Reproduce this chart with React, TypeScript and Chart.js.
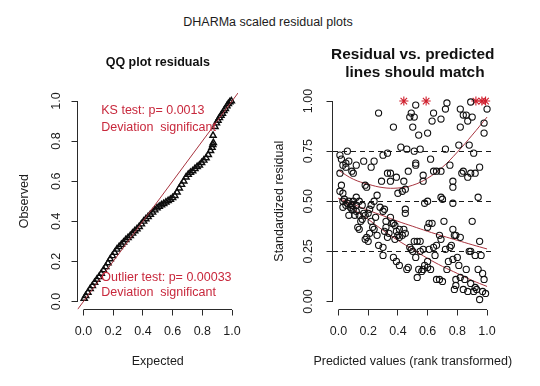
import React, { useEffect, useRef } from 'react';
import { Chart, registerables } from 'chart.js';

Chart.register(...registerables);

// ---------------- data ----------------
const mainTitle = 'DHARMa scaled residual plots';
const qqTitle = ['QQ plot residuals'];
const resTitle = ['Residual vs. predicted', ' lines should match'];

const qqTickValues = [0, 0.2, 0.4, 0.6, 0.8, 1.0];
const qqTickLabels = ['0.0', '0.2', '0.4', '0.6', '0.8', '1.0'];
const resXTickValues = [0, 0.2, 0.4, 0.6, 0.8, 1.0];
const resXTickLabels = ['0.0', '0.2', '0.4', '0.6', '0.8', '1.0'];
const resYTickValues = [0, 0.25, 0.5, 0.75, 1.0];
const resYTickLabels = ['0.00', '0.25', '0.50', '0.75', '1.00'];
const dashLevels = [0.25, 0.5, 0.75];

// QQ plot: expected vs observed
const qqExpected = [
  0.005, 0.015, 0.03, 0.045, 0.06, 0.075, 0.09, 0.105, 0.12, 0.135, 0.15, 0.165, 0.18, 0.195,
  0.21, 0.225, 0.24, 0.255, 0.27, 0.285, 0.3, 0.315, 0.33, 0.345, 0.36, 0.375, 0.39, 0.405,
  0.42, 0.435, 0.45, 0.465, 0.48, 0.495, 0.51, 0.525, 0.54, 0.555, 0.57, 0.585, 0.6, 0.615,
  0.63, 0.645, 0.66, 0.675, 0.69, 0.705, 0.72, 0.735, 0.75, 0.765, 0.78, 0.795, 0.81, 0.825,
  0.84, 0.855, 0.865, 0.87, 0.874, 0.872, 0.885, 0.895, 0.905, 0.915, 0.925, 0.935, 0.945,
  0.955, 0.965, 0.975, 0.985, 0.995,
];
const qqObserved = [
  0.015, 0.028, 0.045, 0.064, 0.078, 0.095, 0.11, 0.123, 0.14, 0.157, 0.173, 0.192, 0.212, 0.228,
  0.244, 0.26, 0.273, 0.284, 0.295, 0.308, 0.318, 0.328, 0.34, 0.352, 0.362, 0.373, 0.386, 0.4,
  0.412, 0.423, 0.434, 0.445, 0.456, 0.466, 0.474, 0.481, 0.488, 0.495, 0.502, 0.509, 0.517, 0.528,
  0.545, 0.565, 0.583, 0.6, 0.62, 0.634, 0.643, 0.651, 0.662, 0.672, 0.68, 0.692, 0.704, 0.716,
  0.732, 0.752, 0.768, 0.782, 0.792, 0.828, 0.872, 0.89, 0.903, 0.916, 0.928, 0.938, 0.952,
  0.962, 0.975, 0.986, 0.995, 1.0,
];
const identityEnds = [-0.04, 1.04];

// Residual vs predicted (rank transformed)
const predicted = [
  0.27, 0.37, 0.48, 0.49, 0.51, 0.52, 0.50, 0.54, 0.60, 0.63, 0.64, 0.69, 0.72, 0.73, 0.82, 0.82,
  0.84, 0.86, 0.87, 0.90, 0.89, 1.0, 0.98, 0.98, 0.81, 0.88, 0.91, 0.42, 0.46, 0.51, 0.55, 0.72,
  0.75, 0.95, 0.92, 0.83, 0.84, 0.87, 0.89, 0.77, 0.77, 0.94, 0.66, 0.64, 0.69, 0.62, 0.57, 0.57,
  0.52, 0.52, 0.47, 0.44, 0.45, 0.43, 0.40, 0.39, 0.35, 0.35, 0.33, 0.30, 0.33, 0.24, 0.22, 0.29,
  0.18, 0.19, 0.17, 0.12, 0.10, 0.09, 0.06, 0.01, 0.02, 0.03, 0.05, 0.07, 0.01, 0.05, 0.02, 0.01,
  0.03, 0.70, 0.69, 0.77, 0.58, 0.60, 0.45, 0.45, 0.26, 0.24, 0.22, 0.21, 0.03, 0.03, 0.06, 0.07,
  0.09, 0.09, 0.07, 0.12, 0.12, 0.14, 0.13, 0.14, 0.16, 0.16, 0.18, 0.19, 0.21, 0.25, 0.24, 0.26,
  0.27, 0.30, 0.30, 0.28, 0.30, 0.31, 0.32, 0.31, 0.32, 0.35, 0.37, 0.38, 0.39, 0.40, 0.41, 0.43,
  0.44, 0.45, 0.37, 0.39, 0.41, 0.04, 0.05, 0.10, 0.11, 0.14, 0.17, 0.20, 0.22, 0.23, 0.33, 0.34,
  0.36, 0.38, 0.41, 0.08, 0.10, 0.12, 0.15, 0.18, 0.20, 0.46, 0.47, 0.48, 0.49, 0.51, 0.53, 0.55,
  0.53, 0.54, 0.55, 0.57, 0.56, 0.57, 0.58, 0.61, 0.63, 0.60, 0.61, 0.64, 0.62, 0.60, 0.66, 0.69,
  0.68, 0.66, 0.68, 0.70, 0.71, 0.72, 0.73, 0.74, 0.75, 0.76, 0.77, 0.78, 0.79, 0.77, 0.78, 0.79,
  0.79, 0.80, 0.82, 0.82, 0.81, 0.84, 0.85, 0.86, 0.87, 0.89, 0.89, 0.90, 0.91, 0.92, 0.92, 0.93,
  0.94, 0.95, 0.95, 0.96, 0.97, 0.97, 0.98, 0.99, 0.88, 0.50, 0.52, 0.60, 0.65,
];
const residual = [
  0.94, 0.87, 0.92, 0.94, 0.92, 0.98, 0.87, 0.83, 0.84, 0.90, 0.94, 0.91, 0.96, 0.99, 0.96, 0.87,
  0.93, 0.93, 0.90, 0.92, 0.995, 0.96, 0.89, 0.84, 0.78, 0.78, 0.74, 0.77, 0.76, 0.75, 0.76, 0.76,
  0.68, 0.67, 0.64, 0.64, 0.65, 0.62, 0.64, 0.60, 0.57, 0.52, 0.65, 0.65, 0.65, 0.71, 0.63, 0.60,
  0.69, 0.68, 0.65, 0.60, 0.56, 0.55, 0.54, 0.62, 0.60, 0.64, 0.64, 0.73, 0.74, 0.70, 0.67, 0.60,
  0.58, 0.57, 0.70, 0.68, 0.64, 0.65, 0.75, 0.73, 0.71, 0.68, 0.69, 0.70, 0.64, 0.67, 0.58, 0.55,
  0.54, 0.51, 0.52, 0.49, 0.49, 0.50, 0.46, 0.44, 0.53, 0.50, 0.48, 0.46, 0.50, 0.47, 0.49, 0.50,
  0.48, 0.46, 0.43, 0.48, 0.52, 0.50, 0.37, 0.36, 0.48, 0.41, 0.43, 0.32, 0.34, 0.42, 0.36, 0.33,
  0.28, 0.27, 0.23, 0.47, 0.45, 0.46, 0.40, 0.35, 0.37, 0.42, 0.39, 0.31, 0.35, 0.33, 0.36, 0.33,
  0.36, 0.34, 0.22, 0.20, 0.18, 0.51, 0.48, 0.46, 0.43, 0.43, 0.44, 0.44, 0.40, 0.37, 0.32, 0.34,
  0.39, 0.38, 0.32, 0.47, 0.50, 0.45, 0.40, 0.31, 0.30, 0.16, 0.17, 0.27, 0.26, 0.30, 0.30, 0.30,
  0.12, 0.16, 0.25, 0.26, 0.15, 0.16, 0.18, 0.39, 0.39, 0.37, 0.26, 0.27, 0.16, 0.17, 0.28, 0.31,
  0.33, 0.11, 0.11, 0.10, 0.40, 0.26, 0.16, 0.20, 0.27, 0.28, 0.36, 0.33, 0.33, 0.21, 0.06, 0.08,
  0.11, 0.22, 0.32, 0.12, 0.18, 0.06, 0.11, 0.16, 0.05, 0.09, 0.25, 0.40, 0.05, 0.07, 0.23, 0.06,
  0.16, 0.01, 0.30, 0.23, 0.14, 0.05, 0.11, 0.04, 0.25, 0.25, 0.22, 0.20, 0.23,
];

// outliers (residual exactly 1)
const outlierPredicted = [0.44, 0.59, 0.925, 0.965, 0.99];
const outlierResidual = [1, 1, 1, 1, 1];

// quantile regression curves
const quantileX = [0, 0.1, 0.2, 0.3, 0.4, 0.5, 0.6, 0.7, 0.8, 0.9, 1.0];
const quantile75 = [0.655, 0.61, 0.585, 0.568, 0.566, 0.58, 0.615, 0.67, 0.745, 0.83, 0.92];
const quantile50 = [0.515, 0.485, 0.455, 0.428, 0.4, 0.375, 0.35, 0.327, 0.305, 0.283, 0.262];
const quantile25 = [0.515, 0.46, 0.41, 0.355, 0.305, 0.26, 0.215, 0.175, 0.14, 0.105, 0.075];

// test annotations
const ksLines = ['KS test: p= 0.0013', 'Deviation  significant'];
const outlierLines = ['Outlier test: p= 0.00033', 'Deviation  significant'];

// ---------------- styling ----------------
const FAMILY = "'Liberation Sans', Arial, sans-serif";
const INK = '#1c1c1c';
const AXIS_INK = '#2a2a2a';
const TEXT_RED = '#c8283c';
const LINE_RED = '#a8343f';
const STAR_RED = '#d0202e';

Chart.defaults.font.family = FAMILY;
Chart.defaults.color = INK;

const rAxisPlugin = {
  id: 'rAxis',
  afterDraw(chart: any) {
    const { ctx, chartArea } = chart;
    const xs = chart.scales.x;
    const ys = chart.scales.y;
    const bx = Math.round(chartArea.bottom - 0.5) + 0.5;
    const lx = Math.round(chartArea.left - 0.5) + 0.5;
    ctx.save();
    ctx.strokeStyle = AXIS_INK;
    ctx.lineWidth = 1;
    ctx.beginPath();
    const xt = xs.ticks;
    ctx.moveTo(xs.getPixelForValue(xt[0].value), bx);
    ctx.lineTo(xs.getPixelForValue(xt[xt.length - 1].value), bx);
    const yt = ys.ticks;
    ctx.moveTo(lx, ys.getPixelForValue(yt[0].value));
    ctx.lineTo(lx, ys.getPixelForValue(yt[yt.length - 1].value));
    ctx.stroke();
    ctx.restore();
  },
};

// titles centred over the plot region (R style)
const panelTitlePlugin = {
  id: 'panelTitle',
  afterDraw(chart: any, _args: any, opts: any) {
    const { ctx, chartArea } = chart;
    const cx = (chartArea.left + chartArea.right) / 2;
    ctx.save();
    ctx.fillStyle = '#111';
    ctx.textAlign = 'center';
    ctx.textBaseline = 'middle';
    ctx.font = `bold ${opts.size}px ${FAMILY}`;
    opts.lines.forEach((t: string, i: number) => ctx.fillText(t, cx, opts.y[i]));
    ctx.font = `12.5px ${FAMILY}`;
    ctx.fillStyle = INK;
    ctx.fillText(opts.xTitle, cx, opts.xTitleY);
    ctx.restore();
  },
};

const notesPlugin = {
  id: 'notes',
  afterDraw(chart: any, _args: any, opts: any) {
    if (!opts || !opts.items) return;
    const { ctx } = chart;
    const xs = chart.scales.x;
    const ys = chart.scales.y;
    ctx.save();
    ctx.font = `12.5px ${FAMILY}`;
    ctx.fillStyle = TEXT_RED;
    ctx.textAlign = 'left';
    ctx.textBaseline = 'middle';
    opts.items.forEach((n: any) => {
      ctx.fillText(n.text, xs.getPixelForValue(n.x), ys.getPixelForValue(n.y));
    });
    ctx.restore();
  },
};

function xScale(tickValues: number[], tickLabels: string[]) {
  return {
    type: 'linear',
    position: 'bottom',
    min: -0.04,
    max: 1.04,
    afterBuildTicks: (s: any) => {
      s.ticks = tickValues.map((v) => ({ value: v }));
    },
    afterFit: (s: any) => {
      s.height = 76.5;
    },
    grid: {
      display: true,
      drawOnChartArea: false,
      drawTicks: true,
      tickLength: 6,
      tickColor: AXIS_INK,
      tickWidth: 1,
      color: AXIS_INK,
    },
    border: { display: false },
    ticks: {
      autoSkip: false,
      minRotation: 0,
      maxRotation: 0,
      padding: 9,
      color: INK,
      font: { size: 12.5 },
      callback: (_v: any, i: number) => tickLabels[i],
    },
    title: { display: false },
  };
}

function yScale(
  tickValues: number[],
  tickLabels: string[],
  title: string,
  width: number,
  tickPad: number,
  titlePad: number,
  dashed: number[] | null,
) {
  return {
    type: 'linear',
    position: 'left',
    min: -0.04,
    max: 1.04,
    afterBuildTicks: (s: any) => {
      s.ticks = tickValues.map((v) => ({ value: v }));
    },
    afterFit: (s: any) => {
      s.width = width;
    },
    grid: {
      display: true,
      drawOnChartArea: !!dashed,
      drawTicks: true,
      tickLength: 6,
      tickColor: AXIS_INK,
      tickWidth: 1,
      lineWidth: 1,
      color: (c: any) =>
        dashed && c.tick && dashed.includes(c.tick.value) ? '#1a1a1a' : 'rgba(0,0,0,0)',
    },
    border: { display: false, dash: [5, 4] },
    ticks: {
      autoSkip: false,
      minRotation: 90,
      maxRotation: 90,
      crossAlign: 'center',
      padding: tickPad,
      color: INK,
      font: { size: 12.5 },
      callback: (_v: any, i: number) => tickLabels[i],
    },
    title: {
      display: true,
      text: title,
      color: INK,
      font: { size: 12.5 },
      padding: { top: titlePad, bottom: 0 },
    },
  };
}

function qqConfig(): any {
  return {
    type: 'scatter',
    data: {
      datasets: [
        {
          label: 'identity',
          data: identityEnds.map((v) => ({ x: v, y: v })),
          showLine: true,
          borderColor: LINE_RED,
          borderWidth: 1,
          pointRadius: 0,
        },
        {
          label: 'QQ',
          data: qqExpected.map((x, i) => ({ x, y: qqObserved[i] })),
          pointStyle: 'triangle',
          pointRadius: 3.6,
          borderColor: '#0d0d0d',
          backgroundColor: 'rgba(0,0,0,0)',
          borderWidth: 1.4,
        },
      ],
    },
    options: {
      animation: false,
      responsive: false,
      devicePixelRatio: 1,
      events: [],
      layout: { padding: { left: 0, right: 32, top: 93, bottom: 0 } },
      plugins: {
        legend: { display: false },
        tooltip: { enabled: false },
        panelTitle: { lines: qqTitle, y: [63], size: 12.5, xTitle: 'Expected', xTitleY: 362 },
        notes: {
          items: [
            { text: ksLines[0], x: 0.12, y: 0.954 },
            { text: ksLines[1], x: 0.12, y: 0.869 },
            { text: outlierLines[0], x: 0.12, y: 0.118 },
            { text: outlierLines[1], x: 0.12, y: 0.043 },
          ],
        },
      },
      scales: {
        x: xScale(qqTickValues, qqTickLabels),
        y: yScale(qqTickValues, qqTickLabels, 'Observed', 77.5, 6, 17.5, null),
      },
    },
    plugins: [rAxisPlugin, panelTitlePlugin, notesPlugin],
  };
}

function quantileDataset(values: number[]) {
  return {
    data: quantileX.map((x, i) => ({ x, y: values[i] })),
    showLine: true,
    tension: 0.4,
    borderColor: LINE_RED,
    borderWidth: 1,
    pointRadius: 0,
  };
}

function resConfig(): any {
  return {
    type: 'scatter',
    data: {
      datasets: [
        {
          label: 'residuals',
          data: predicted.map((x, i) => ({ x, y: residual[i] })),
          pointStyle: 'circle',
          pointRadius: 3.1,
          borderColor: '#111',
          backgroundColor: 'rgba(0,0,0,0)',
          borderWidth: 1.1,
        },
        { label: 'q75', ...quantileDataset(quantile75) },
        { label: 'q50', ...quantileDataset(quantile50) },
        { label: 'q25', ...quantileDataset(quantile25) },
        {
          label: 'outliers',
          data: outlierPredicted.map((x, i) => ({ x, y: outlierResidual[i] })),
          pointStyle: 'star',
          pointRadius: 4.6,
          borderColor: STAR_RED,
          borderWidth: 1.1,
        },
      ],
    },
    options: {
      animation: false,
      responsive: false,
      devicePixelRatio: 1,
      events: [],
      layout: { padding: { left: 0, right: 47, top: 93, bottom: 0 } },
      plugins: {
        legend: { display: false },
        tooltip: { enabled: false },
        panelTitle: {
          lines: resTitle,
          y: [54.3, 72.7],
          size: 15.4,
          xTitle: 'Predicted values (rank transformed)',
          xTitleY: 362,
        },
      },
      scales: {
        x: xScale(resXTickValues, resXTickLabels),
        y: yScale(resYTickValues, resYTickLabels, 'Standardized residual', 62.5, 5.5, 2.5, dashLevels),
      },
    },
    plugins: [rAxisPlugin, panelTitlePlugin],
  };
}

function Panel({ make, left }: { make: () => any; left: number }) {
  const ref = useRef<HTMLCanvasElement>(null);
  useEffect(() => {
    if (!ref.current) return;
    const chart = new Chart(ref.current, make());
    return () => chart.destroy();
  }, []);
  return (
    <canvas
      ref={ref}
      width={270}
      height={386}
      style={{ position: 'absolute', left, top: 0, width: 270, height: 386 }}
    />
  );
}

export default function App() {
  return (
    <div
      style={{
        position: 'absolute',
        left: 0,
        top: 0,
        width: 540,
        height: 386,
        background: '#fff',
        overflow: 'hidden',
      }}
    >
      <div
        style={{
          position: 'absolute',
          left: 0,
          top: 15,
          width: 536,
          textAlign: 'center',
          fontFamily: FAMILY,
          fontSize: 12.5,
          lineHeight: '15px',
          color: INK,
          whiteSpace: 'nowrap',
        }}
      >
        {mainTitle}
      </div>
      <Panel make={qqConfig} left={0} />
      <Panel make={resConfig} left={270} />
    </div>
  );
}
